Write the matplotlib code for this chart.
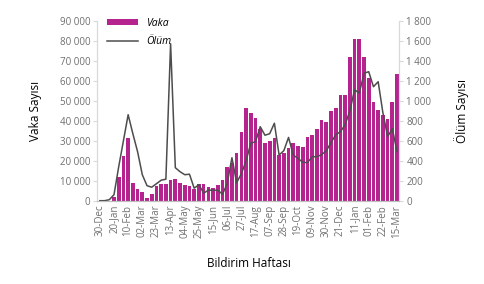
import matplotlib
matplotlib.use('Agg')
import matplotlib.pyplot as plt
import matplotlib.ticker as mticker
import numpy as np

plt.rcParams['font.family'] = ['Open Sans', 'DejaVu Sans']

# weekly data, 30-Dec-2019 .. 15-Mar-2021
week_labels = ['30-Dec', '20-Jan', '10-Feb', '02-Mar', '23-Mar', '13-Apr', '04-May',
               '25-May', '15-Jun', '06-Jul', '27-Jul', '17-Aug', '07-Sep', '28-Sep',
               '19-Oct', '09-Nov', '30-Nov', '21-Dec', '11-Jan', '01-Feb', '22-Feb',
               '15-Mar']

vaka = [0, 0, 0, 2000, 12000, 22500, 31500, 8700, 5700, 4200,
        1500, 3500, 7500, 8300, 8300, 10300, 10800, 8700, 7800, 7500,
        5700, 8200, 8200, 7000, 6200, 7800, 10300, 16700, 19000, 23700,
        34300, 46200, 43700, 41200, 36000, 28700, 30000, 31200, 22800, 24000,
        26200, 28700, 27300, 26700, 31700, 32800, 35700, 40300, 39500, 45000,
        46500, 52800, 52800, 71700, 81000, 80700, 71700, 61200, 49500, 45300,
        42800, 41000, 49500, 63300]

olum = [0, 0, 10, 60, 340, 600, 860, 670, 490, 260,
        150, 135, 170, 205, 215, 1570, 330, 290, 260, 265,
        125, 160, 75, 105, 105, 105, 65, 170, 430, 180,
        270, 400, 575, 590, 740, 655, 670, 775, 457, 500,
        633, 457, 423, 385, 380, 440, 440, 460, 500, 580,
        660, 690, 760, 900, 1110, 1075, 1275, 1290, 1140, 1190,
        880, 640, 720, 490]

weeks = np.arange(len(vaka))
grey = '#6F6F6F'
spine_c = '#D9D9D9'

fig = plt.figure(figsize=(4.85, 2.84), dpi=100)
ax = fig.add_axes([0.201, 0.2933, 0.6225, 0.6337])
ax2 = ax.twinx()

bars = ax.bar(weeks, vaka, width=0.78, color='#B5238F', label='Vaka')
line, = ax2.plot(weeks, olum, color='#4D4D4D', linewidth=1.1, label='Ölüm')

ax.set_xlim(-0.5, len(vaka) - 0.5)
ax.set_ylim(0, 90000)
ax2.set_ylim(0, 1800)

space_fmt = mticker.FuncFormatter(lambda v, p: '{:,.0f}'.format(v).replace(',', ' '))
ax.yaxis.set_major_locator(mticker.MultipleLocator(10000))
ax.yaxis.set_major_formatter(space_fmt)
ax2.yaxis.set_major_locator(mticker.MultipleLocator(200))
ax2.yaxis.set_major_formatter(space_fmt)

ax.set_xticks(weeks[::3])
ax.set_xticklabels(week_labels, rotation=90)

for a in (ax, ax2):
    a.spines['top'].set_visible(False)
    a.spines['left'].set_color(spine_c)
    a.spines['right'].set_color(spine_c)
    a.spines['bottom'].set_color('#BFBFBF')
ax.tick_params(axis='y', colors=grey, labelsize=7, length=3, color=spine_c, pad=2)
ax2.tick_params(axis='y', colors=grey, labelsize=7, length=3, color=spine_c, pad=2)
ax.tick_params(axis='x', colors=grey, labelsize=7, length=0, pad=3)

ax.set_ylabel('Vaka Sayısı', fontsize=8.5, color='#000000', labelpad=13)
ax2.set_ylabel('Ölüm Sayısı', fontsize=8.5, color='#000000', labelpad=16)
ax.set_xlabel('Bildirim Haftası', fontsize=8.5, color='#000000', labelpad=13)

leg = ax.legend([bars, line], ['Vaka', 'Ölüm'], loc='upper left',
                bbox_to_anchor=(0.0, 1.07), frameon=False, handlelength=3.0,
                handleheight=0.6, labelspacing=0.75,
                prop={'size': 7.5, 'style': 'italic'})

fig.savefig('out.png', dpi=100)
